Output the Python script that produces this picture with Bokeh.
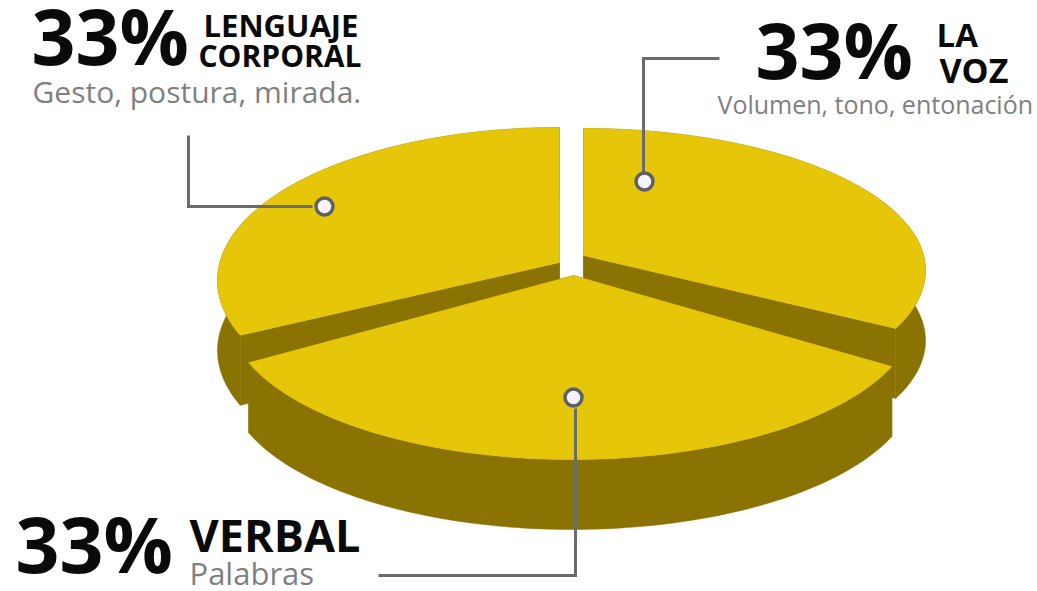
import numpy as np
from bokeh.plotting import figure
from bokeh.core.properties import value
from bokeh.embed import file_html
from bokeh.resources import INLINE

# --- data ---
categories = ["LENGUAJE CORPORAL", "LA VOZ", "VERBAL"]
shares = [33, 33, 33]
name_lines = [["LENGUAJE", "CORPORAL"], ["LA", "VOZ"], ["VERBAL"]]
details = ["Gesto, postura, mirada.", "Volumen, tono, entonación", "Palabras"]

# --- layout of the exploded, tilted pie (page pixels) ---
W, H = 1037, 591
YELLOW, DARK, GREY, LEADER = "#E6C608", "#8A7203", "#808080", "#6B6B6E"
DEPTH = 70
centers = [(559, 280), (583, 270), (571.5, 312)]
radii = [(342, 153), (342, 142), (344, 147)]
apexes = [(559, 262), (583, 255), (573, 275)]
starts = [90, 90, 200]      # degrees on each ellipse
stretch = [111 / 120, -114.1 / 120, 138.4 / 120]  # foreshortening of the sweep

p = figure(width=W, height=H, x_range=(0, W), y_range=(H, 0),
           toolbar_location=None, output_backend="svg", min_border=0,
           outline_line_color=None, background_fill_color="white",
           border_fill_color="white")
p.axis.visible = False
p.grid.visible = False


def arc(i):
    sweep = 360 * shares[i] / sum(shares) * stretch[i]
    t = np.radians(np.linspace(starts[i], starts[i] + sweep, 90))
    return centers[i][0] + radii[i][0] * np.cos(t), centers[i][1] - radii[i][1] * np.sin(t)


def wedge(i):
    x, y = arc(i)
    ax, ay = apexes[i]
    # outer wall
    p.patch(np.r_[x, x[::-1]], np.r_[y, y[::-1] + DEPTH], fill_color=DARK, line_color=DARK, line_width=0.5)
    # cut walls
    for k in (0, -1):
        p.patch([ax, x[k], x[k], ax], [ay, y[k], y[k] + DEPTH, ay + DEPTH],
                fill_color=DARK, line_color=DARK, line_width=0.5)
    # top face
    p.patch(np.r_[ax, x], np.r_[ay, y], fill_color=YELLOW, line_color=YELLOW, line_width=0.5)


for i in (0, 1, 2):
    wedge(i)

# leader lines
leaders = [([188, 188, 312], [135, 206, 206]),
           ([719, 643, 643], [58, 58, 172]),
           ([575, 575, 378], [408, 575, 575])]
for lx, ly in leaders:
    p.line(lx, ly, line_color=LEADER, line_width=3, line_join="miter")
p.scatter([324, 644, 573], [206, 181, 397], size=17, fill_color="#F4F4FA",
          line_color="#5F5F68", line_width=3.5)


def label(x, baseline, txt, size, color="#0A0A0A", bold=True):
    # the svg backend draws an "alphabetic" text about 0.41 em below its anchor
    p.text([x], [baseline - 0.41 * size], text=[txt], text_font=value("Open Sans"),
           text_font_size=f"{size}px", text_font_style="bold" if bold else "normal",
           text_color=color, text_baseline="alphabetic", text_align="left")


pct = [f"{s}%" for s in shares]
label(31, 67, pct[0], 77)
label(755, 81, pct[1], 77)
label(15, 575, pct[2], 77)

label(203, 37, name_lines[0][0], 31)
label(198, 67, name_lines[0][1], 30)
label(936, 48, name_lines[1][0], 33)
label(939, 83, name_lines[1][1], 34)
label(189, 552, name_lines[2][0], 45)

label(32, 103, details[0], 30, GREY, False)
label(717, 114, details[1], 25, GREY, False)
label(189, 585, details[2], 31, GREY, False)

open("out.html", "w").write(file_html(p, INLINE))
